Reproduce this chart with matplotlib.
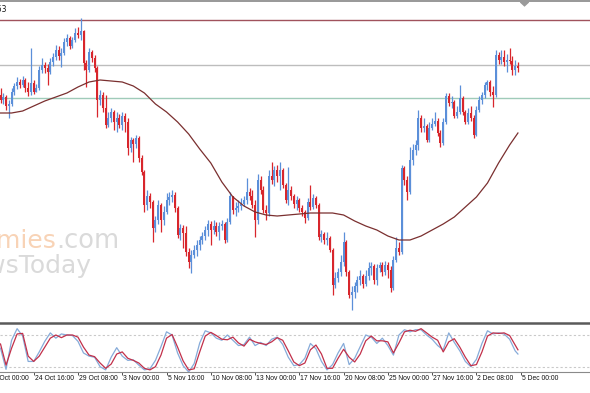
import matplotlib

matplotlib.use("Agg")

import matplotlib.pyplot as plt
import matplotlib.transforms as mtransforms
import numpy as np

BULL = "#5b8fd9"
BEAR = "#d8262c"
MA_COLOR = "#7a2f2f"
TOP_LINE = "#a0525c"
MID_LINE = "#bdbdbd"
LOW_LINE = "#9fcbb9"
K_COLOR = "#86abd9"
D_COLOR = "#c2304a"
LEVEL = "#c9c9c9"
TEXT = "#111111"

# H4 candles, price in points
first_open = 235
closes = [
    230, 233, 224, 226, 238, 244, 248, 245, 250, 242,
    238, 247, 238, 242, 260, 265, 262, 258, 268, 273,
    280, 274, 277, 288, 292, 284, 290, 297, 295, 299,
    267, 260, 278, 272, 262, 230, 235, 222, 205, 212,
    218, 208, 212, 205, 214, 208, 182, 190, 186, 192,
    172, 158, 125, 134, 128, 102, 110, 125, 110, 118,
    130, 133, 135, 122, 95, 102, 97, 78, 68, 75,
    80, 85, 90, 94, 100, 106, 100, 104, 98, 104,
    106, 90, 108, 134, 120, 122, 124, 126, 130, 138,
    134, 125, 110, 150, 140, 120, 117, 154, 150, 160,
    154, 160, 145, 130, 140, 134, 126, 130, 122, 118,
    112, 128, 123, 132, 125, 93, 96, 90, 92, 80,
    45, 52, 58, 68, 88, 58, 35, 38, 44, 50,
    54, 46, 54, 62, 64, 50, 62, 65, 58, 65,
    60, 42, 70, 82, 78, 162, 150, 138, 170, 180,
    185, 212, 202, 204, 190, 202, 206, 209, 197, 187,
    208, 234, 227, 228, 214, 218, 232, 218, 208, 217,
    212, 195, 220, 230, 235, 245, 248, 238, 235, 275,
    270, 273, 268, 270, 269, 260, 264, 262,
]
highs = [
    242, 237, 235, 230, 242, 247, 253, 251, 254, 252,
    248, 282, 250, 246, 264, 272, 268, 266, 272, 277,
    285, 284, 282, 292, 296, 294, 293, 302, 303, 312,
    300, 270, 282, 280, 275, 264, 240, 238, 235, 218,
    222, 220, 218, 216, 218, 217, 212, 193, 192, 195,
    194, 175, 160, 140, 137, 130, 114, 130, 127, 124,
    137, 138, 140, 138, 124, 106, 105, 104, 82, 80,
    85, 90, 94, 98, 104, 110, 109, 110, 108, 108,
    110, 108, 112, 138, 134, 128, 130, 132, 134, 152,
    142, 140, 130, 156, 154, 144, 125, 160, 168, 164,
    165, 168, 162, 147, 163, 144, 136, 134, 132, 125,
    120, 132, 145, 136, 134, 127, 100, 98, 98, 94,
    82, 58, 62, 75, 98, 90, 60, 44, 48, 54,
    60, 56, 60, 68, 68, 66, 66, 68, 68, 69,
    68, 64, 74, 93, 88, 165, 164, 154, 183, 186,
    190, 220, 215, 212, 206, 208, 212, 218, 212, 200,
    212, 237, 237, 234, 230, 224, 245, 234, 220, 222,
    224, 215, 224, 234, 238, 248, 250, 250, 244, 280,
    278, 280, 280, 276, 282, 274, 270, 268,
]
lows = [
    227, 226, 220, 212, 224, 235, 241, 242, 243, 238,
    234, 235, 236, 239, 240, 257, 257, 245, 256, 264,
    270, 270, 263, 275, 284, 281, 282, 288, 292, 290,
    260, 243, 258, 268, 258, 213, 225, 218, 202, 203,
    208, 200, 198, 202, 200, 198, 175, 178, 168, 182,
    168, 155, 118, 120, 122, 88, 98, 106, 98, 105,
    116, 125, 128, 118, 92, 90, 82, 74, 62, 57,
    72, 74, 80, 86, 90, 94, 85, 96, 94, 90,
    100, 87, 88, 106, 116, 114, 118, 120, 124, 126,
    130, 122, 93, 106, 136, 117, 110, 114, 146, 144,
    148, 140, 142, 127, 125, 130, 122, 120, 118, 114,
    107, 110, 120, 121, 122, 90, 88, 86, 85, 78,
    35, 42, 48, 54, 64, 54, 32, 20, 32, 38,
    45, 42, 44, 50, 55, 46, 45, 58, 54, 55,
    52, 38, 40, 68, 75, 76, 145, 130, 136, 165,
    175, 180, 198, 198, 188, 188, 200, 204, 194, 183,
    185, 206, 224, 222, 212, 212, 216, 215, 206, 206,
    209, 192, 194, 218, 226, 232, 240, 234, 223, 233,
    266, 266, 264, 258, 266, 255, 255, 258,
]

# moving average, read every 4th bar
ma_bars = list(range(0, 188, 4)) + [187]
ma_values = [
    217, 217, 219, 224, 229, 233, 237, 243, 248, 250,
    249, 248, 244, 237, 226, 218, 208, 196, 181, 167,
    148, 133, 124, 118, 115, 114, 115, 116, 117, 117,
    117, 115, 109, 104, 100, 94, 90, 90, 94, 100,
    106, 113, 123, 133, 147, 167, 185, 197,
]

# horizontal levels
level_values = [310, 265, 232]
level_colors = [TOP_LINE, MID_LINE, LOW_LINE]

# stochastic, read every 2nd bar
stoch_bars = list(range(0, 188, 2)) + [187]
stoch_k = [
    55, 15, 70, 92, 78, 30, 30, 48, 68, 84,
    74, 82, 80, 79, 68, 46, 40, 38, 20, 14,
    38, 56, 40, 32, 33, 23, 14, 16, 32, 58,
    86, 80, 46, 22, 10, 26, 65, 88, 84, 74,
    70, 80, 70, 60, 62, 76, 60, 66, 60, 72,
    76, 62, 38, 22, 24, 36, 64, 54, 30, 14,
    24, 46, 64, 24, 36, 58, 80, 76, 64, 74,
    60, 42, 80, 90, 86, 90, 90, 80, 72, 60,
    52, 84, 66, 50, 30, 20, 34, 64, 88, 82,
    84, 82, 72, 50, 44,
]
stoch_d = [
    63, 23, 55, 82, 83, 40, 30, 40, 57, 74,
    80, 75, 80, 80, 76, 57, 42, 39, 27, 17,
    25, 44, 48, 36, 32, 27, 17, 14, 20, 42,
    74, 81, 57, 31, 14, 16, 48, 78, 85, 79,
    72, 71, 76, 65, 59, 72, 67, 64, 62, 67,
    75, 70, 50, 29, 22, 27, 52, 61, 44, 17,
    17, 36, 53, 38, 29, 44, 69, 78, 69, 69,
    67, 46, 65, 86, 89, 87, 92, 84, 76, 70,
    48, 67, 73, 57, 38, 22, 24, 48, 78, 84,
    83, 84, 79, 61, 52,
]
stoch_levels = [80, 20]

tick_bars = [-4, 12, 28, 44, 60, 76, 92, 108, 124, 140, 156, 172, 188]
tick_labels = [
    "22 Oct 00:00", "24 Oct 16:00", "29 Oct 08:00", "3 Nov 00:00",
    "5 Nov 16:00", "10 Nov 08:00", "13 Nov 00:00", "17 Nov 16:00",
    "20 Nov 08:00", "25 Nov 00:00", "27 Nov 16:00", "2 Dec 08:00",
    "5 Dec 00:00",
]

W, H = 590, 393
BAR_PX = 2.767
X0_PX = 0.5
xlim = (-X0_PX / BAR_PX, (W - X0_PX) / BAR_PX)

fig = plt.figure(figsize=(W / 100, H / 100), dpi=100, facecolor="white")


def fig_rect(top_px, bottom_px):
    return [0, (H - bottom_px) / H, 1, (bottom_px - top_px) / H]


ax = fig.add_axes(fig_rect(2, 321))
ax_st = fig.add_axes(fig_rect(323, 372))
for a in (ax, ax_st):
    a.set_xlim(*xlim)
    a.set_xticks([])
    a.set_yticks([])
    for s in a.spines.values():
        s.set_visible(False)

# watermark
fig.text(56 / W, 1 - 248 / H, "Economies", ha="right", va="baseline",
         fontsize=18, color="#f8d3b6", family="DejaVu Sans", zorder=0)
fig.text(56 / W, 1 - 248 / H, ".com", ha="left", va="baseline",
         fontsize=18.5, color="#dadada", family="DejaVu Sans", zorder=0)
fig.text(91 / W, 1 - 273 / H, "NewsToday", ha="right", va="baseline",
         fontsize=18, color="#dadada", family="DejaVu Sans", zorder=0)

# candles
n = len(closes)
bars = np.arange(n)
c = np.array(closes, dtype=float)
o = np.r_[first_open, c[:-1]]
hi = np.maximum(np.array(highs, dtype=float), np.maximum(o, c))
lo = np.minimum(np.array(lows, dtype=float), np.minimum(o, c))
up = c >= o
colors = np.where(up, BULL, BEAR)

ax.vlines(bars, lo, hi, colors=colors, linewidth=0.9, zorder=3)
body_lo = np.minimum(o, c)
body_h = np.maximum(np.abs(c - o), 0.8)
ax.bar(bars, body_h, bottom=body_lo, width=0.72, color=colors,
       linewidth=0, zorder=4)

ax.plot(ma_bars, ma_values, color=MA_COLOR, linewidth=0.9, zorder=5)
for val, col in zip(level_values, level_colors):
    ax.axhline(val, color=col, linewidth=1.0, zorder=2)
ax.set_ylim(9, 328)

# stochastic window
ax_st.set_ylim(10, 102.7)
for lv in stoch_levels:
    ax_st.axhline(lv, color=LEVEL, linewidth=0.8, linestyle=(0, (2, 2)), zorder=1)
ax_st.plot(stoch_bars, stoch_k, color=K_COLOR, linewidth=0.9, zorder=3)
ax_st.plot(stoch_bars, stoch_d, color=D_COLOR, linewidth=0.9, zorder=4)
ax_st.spines["top"].set_visible(True)
ax_st.spines["top"].set_color("#5a5a5a")
ax_st.spines["top"].set_linewidth(1.8)
ax_st.spines["bottom"].set_visible(True)
ax_st.spines["bottom"].set_color("#8a8a8a")
ax_st.spines["bottom"].set_linewidth(0.8)

# time axis: tick marks plus labels that start at the tick
ax_st.set_xticks([b for b in tick_bars if b >= xlim[0]])
ax_st.set_xticklabels([])
ax_st.tick_params(axis="x", length=2, width=0.6, color="#333333")
lab_tr = mtransforms.blended_transform_factory(ax_st.transData, ax_st.transAxes)
lab_off = mtransforms.ScaledTranslation(1 / 100, -3 / 100, fig.dpi_scale_trans)
for b, lab in zip(tick_bars, tick_labels):
    ax_st.text(b, 0, lab, transform=lab_tr + lab_off, ha="left", va="top",
               fontsize=4.9, color=TEXT, family="Liberation Sans", clip_on=False)

# window frame
fig.patches.append(plt.Rectangle((0, 1 - 2 / H), 1, 2 / H, transform=fig.transFigure,
                                 facecolor="#9a9a9a", edgecolor="none"))
fig.text(7 / W, 1 - 10 / H, "1.2453", ha="right", va="center", fontsize=5.5,
         color=TEXT)
ax.fill([0.882, 0.889, 0.896], [1.0, 0.988, 1.0], transform=ax.transAxes,
        color="#9a9a9a", zorder=6)

fig.savefig("out.png", dpi=100, facecolor="white")
